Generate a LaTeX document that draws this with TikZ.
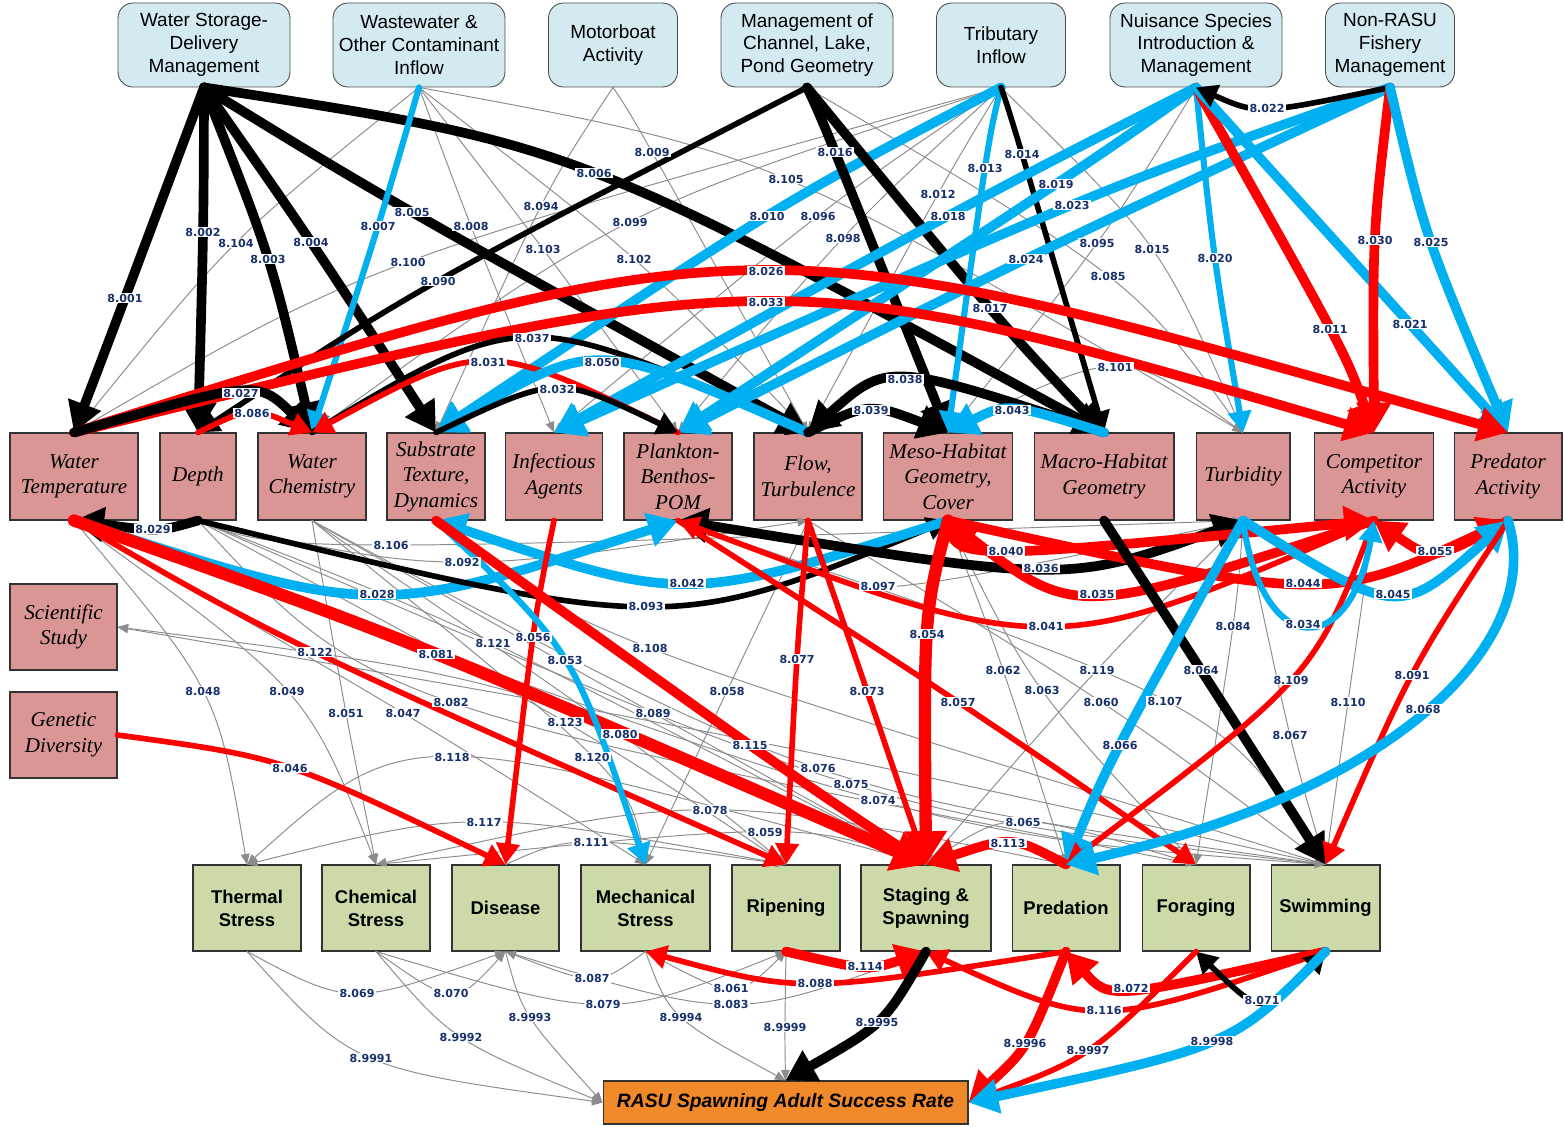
\documentclass[tikz,border=0pt]{standalone}
\usepackage{fontspec}
\setmainfont{Liberation Serif}
\setsansfont{Liberation Sans}
\newfontfamily\lblfont{DejaVu Sans}
\usepackage{xcolor}
\usetikzlibrary{arrows.meta,calc}

\definecolor{topfill}{HTML}{D3EAF0}
\definecolor{midfill}{HTML}{D99694}
\definecolor{botfill}{HTML}{CCDAAA}
\definecolor{outfill}{HTML}{F0892A}
\definecolor{lblc}{HTML}{17306B}
\definecolor{blueln}{HTML}{00B0F0}
\definecolor{redln}{HTML}{FF0000}
\definecolor{grayln}{HTML}{8C8C8C}

% source/label x/label y/target/number
\newcommand\thinlinks{%
ww.south/236/243/wt.north/8.104,%
ti.south/408/262/wt.north/8.100,%
ww.south/471/226/ia.north/8.008,%
mb.south/541/206/st.north/8.094,%
ww.south/543/249/pb.north/8.103,%
mb.south/652/152/ft.north/8.009,%
ti.south/630/222/wc.north/8.099,%
ww.south/634/259/ft.north/8.102,%
ww.south/786/179/tb.north/8.105,%
ti.south/818/216/ia.north/8.096,%
ti.south/843/238/pb.north/8.098,%
ti.south/938/194/ft.north/8.012,%
ns.south/1097/243/mh.north/8.095,%
ti.south/1152/249/tb.north/8.015,%
mg.south/1108/276/tb.north/8.085,%
mh.north/1115/367/tb.north/8.101,%
dp.south/391/545/tb.south/8.106,%
dp.south/462/562/ft.south/8.092,%
tb.south/878/586/ft.south/8.097,%
wt.south/203/691/ths.north/8.048,%
wt.south/287/691/chs.north/8.049,%
wc.south/346/713/chs.north/8.051,%
wt.south/403/713/mes.north/8.047,%
dp.south/451/702/frg.north/8.082,%
dp.south/493/643/sts.north/8.121,%
dp.south/565/722/rip.north/8.123,%
st.south/650/648/swm.north/8.108,%
ft.south/727/691/mes.north/8.058,%
wc.south/653/713/sts.north/8.089,%
wc.south/620/734/rip.north/8.080,%
wc.south/592/757/mes.north/8.120,%
sts.north/452/757/ths.north/8.118,%
rip.north/484/822/ths.north/8.117,%
dis.north/591/842/rip.north/8.111,%
pre.north/710/810/chs.north/8.078,%
chs.north/765/832/sts.north/8.059,%
frg.north/1023/822/sts.north/8.065,%
wt.south/878/800/swm.north/8.074,%
dp.south/851/784/swm.north/8.075,%
wc.south/818/768/swm.north/8.076,%
ft.south/1101/702/swm.north/8.060,%
pb.south/1165/701/swm.north/8.107,%
tb.south/1097/670/sts.north/8.119,%
mh.south/1003/670/pre.north/8.062,%
mh.south/1042/690/frg.north/8.063,%
tb.south/1233/626/frg.north/8.084,%
tb.south/1290/735/swm.north/8.067,%
ca.south/1348/702/swm.north/8.110,%
ths.south/357/993/dis.south/8.069,%
chs.south/451/993/dis.south/8.070,%
mes.south/592/978/dis.south/8.087,%
chs.south/603/1004/rip.south/8.079,%
mes.south/731/988/rip.south/8.061,%
dis.south/731/1004/sts.south/8.083,%
ths.south/371/1058/rasu.west/8.9991,%
chs.south/461/1037/rasu.west/8.9992,%
dis.south/530/1017/rasu.west/8.9993,%
mes.south/681/1017/rasu.north/8.9994,%
rip.south/785/1027/rasu.north/8.9999}

% source/label x/label y/target/number/style
\newcommand\heavylinks{%
ws.south/125/298/wt.north/8.001/kA,%
ws.south/203/232/dp.north/8.002/kA,%
ws.south/268/259/wc.north/8.003/kA,%
ws.south/311/242/st.north/8.004/kA,%
ws.south/412/212/ft.north/8.005/kA,%
ws.south/594/173/ma.north/8.006/kA,%
ww.south/378/226/wc.north/8.007/bB,%
mg.south/438/281/dp.north/8.090/kB,%
ti.south/767/216/st.north/8.010/bA,%
mg.south/835/152/mh.north/8.016/kA,%
mg.south/990/308/ma.north/8.017/kA,%
ti.south/985/168/mh.north/8.013/bB,%
ti.south/1022/154/ma.north/8.014/kB,%
ns.south/948/216/ia.north/8.018/bA,%
ns.south/1056/184/pb.north/8.019/bA,%
nr.south/1072/205/ia.north/8.023/bA,%
nr.south/1026/259/pb.north/8.024/bA,%
ns.south/1215/258/tb.north/8.020/bB,%
ns.south/1330/329/ca.north/8.011/rA,%
ns.south/1410/324/pa.north/8.021/bA,%
nr.south/1267/108/ns.south/8.022/kB,%
nr.south/1375/240/ca.north/8.030/rA,%
nr.south/1431/242/pa.north/8.025/bA,%
wt.north/766/271/pa.north/8.026/rA,%
wt.north/766/302/ca.north/8.033/rA,%
wc.north/532/338/ft.north/8.037/kB,%
pb.north/488/362/wc.north/8.031/rB,%
ft.north/602/362/st.north/8.050/bA,%
st.north/557/389/pb.north/8.032/kB,%
wt.north/241/393/wc.north/8.027/kA,%
dp.north/252/413/wc.north/8.086/rB,%
ma.north/905/379/ft.north/8.038/kA,%
ft.north/871/410/mh.north/8.039/kA,%
ma.north/1012/410/mh.north/8.043/bA,%
dp.south/153/529/wt.south/8.029/kA,%
wt.south/377/594/pb.south/8.028/bA,%
dp.south/646/606/mh.south/8.093/kB,%
mh.south/687/583/st.south/8.042/bA,%
tb.south/1041/568/pb.south/8.036/kAd,%
mh.south/1006/551/ca.south/8.040/rA,%
ca.south/1097/594/mh.south/8.035/rA,%
ca.south/1046/626/pb.south/8.041/rB,%
mh.south/1303/583/pa.south/8.044/rA,%
pa.south/1435/551/ca.south/8.055/rA,%
tb.south/1393/594/pa.south/8.045/bA,%
gd.east/290/768/dis.north/8.046/rB,%
wt.south/315/652/rip.north/8.122/rB,%
wt.south/436/654/sts.north/8.081/rX,%
ia.south/533/637/dis.north/8.056/rB,%
st.south/565/660/mes.north/8.053/bB,%
st.south/750/745/sts.north/8.115/rA,%
ft.south/797/659/rip.north/8.077/rB,%
ft.south/867/691/sts.north/8.073/rB,%
pb.south/958/702/frg.north/8.057/rB,%
mh.south/927/634/sts.north/8.054/rX,%
ma.south/1201/670/swm.north/8.064/kA,%
tb.south/1120/745/pre.north/8.066/bA,%
ca.south/1291/680/pre.north/8.109/rB,%
pa.south/1412/675/swm.north/8.091/rB,%
pre.north/1008/843/sts.north/8.113/rA,%
rip.south/865/966/sts.south/8.114/rA,%
pre.south/815/983/mes.south/8.088/rB,%
swm.south/1104/1010/sts.south/8.116/rB,%
swm.south/1131/988/pre.south/8.072/rA,%
frg.south/1262/1000/swm.south/8.071/kBd,%
sts.south/877/1022/rasu.north/8.9995/kA,%
pre.south/1025/1043/rasu.east/8.9996/rA,%
frg.south/1088/1050/rasu.east/8.9997/rB,%
swm.south/1212/1041/rasu.east/8.9998/bA}

\begin{document}
\begin{tikzpicture}[
  x=0.02cm, y=-0.02cm,
  topbox/.style={rectangle, rounded corners=0.3cm, draw=black!70, line width=0.5pt,
                 fill=topfill, minimum height=1.68cm, align=center, inner sep=1pt,
                 font=\sffamily\fontsize{10.8}{13}\selectfont},
  midbox/.style={rectangle, draw=black!80, line width=0.6pt, fill=midfill,
                 minimum height=1.74cm, align=center, inner sep=1pt,
                 font=\itshape\fontsize{12}{14.5}\selectfont},
  botbox/.style={rectangle, draw=black!80, line width=0.6pt, fill=botfill,
                 minimum height=1.72cm, align=center, inner sep=1pt,
                 font=\sffamily\bfseries\fontsize{10.5}{13}\selectfont},
  outbox/.style={rectangle, draw=black!80, line width=0.6pt, fill=outfill,
                 minimum width=7.3cm, minimum height=0.86cm,
                 font=\sffamily\bfseries\itshape\fontsize{11}{13}\selectfont},
  link/.style={line cap=round, line join=round},
  gr/.style={link, draw=grayln, line width=0.55pt, -{Triangle[length=6pt,width=5pt]}},
  kA/.style={link, draw=black, line width=5.5pt, -{Triangle[length=17pt,width=19pt]}},
  kB/.style={link, draw=black, line width=3.2pt, -{Triangle[length=12pt,width=13pt]}},
  kAd/.style={link, draw=black, line width=5.5pt,
              {Triangle[length=17pt,width=19pt]}-{Triangle[length=17pt,width=19pt]}},
  kBd/.style={link, draw=black, line width=3.2pt,
              {Triangle[length=12pt,width=13pt]}-{Triangle[length=12pt,width=13pt]}},
  rA/.style={link, draw=redln, line width=5.5pt, -{Triangle[length=17pt,width=19pt]}},
  rB/.style={link, draw=redln, line width=3.2pt, -{Triangle[length=12pt,width=13pt]}},
  rX/.style={link, draw=redln, line width=7pt, -{Triangle[length=19pt,width=23pt]}},
  bA/.style={link, draw=blueln, line width=5.5pt, -{Triangle[length=17pt,width=19pt]}},
  bB/.style={link, draw=blueln, line width=3.5pt, -{Triangle[length=12pt,width=13pt]}},
  lbl/.style={fill=white, inner sep=0.6pt, text=lblc,
              font=\lblfont\bfseries\fontsize{6.3}{7}\selectfont}
]
\useasboundingbox (0,0) rectangle (1564,1126);

% management drivers
\node[topbox, minimum width=3.44cm] (ws) at (204,45) {Water Storage-\\Delivery\\Management};
\node[topbox, minimum width=3.44cm] (ww) at (419,45) {Wastewater \&\\Other Contaminant\\Inflow};
\node[topbox, minimum width=2.58cm] (mb) at (613,45) {Motorboat\\Activity};
\node[topbox, minimum width=3.44cm] (mg) at (807,45) {Management of\\Channel, Lake,\\Pond Geometry};
\node[topbox, minimum width=2.58cm] (ti) at (1001,45) {Tributary\\Inflow};
\node[topbox, minimum width=3.44cm] (ns) at (1196,45) {Nuisance Species\\Introduction \&\\Management};
\node[topbox, minimum width=2.58cm] (nr) at (1390,45) {Non-RASU\\Fishery\\Management};

% habitat elements
\node[midbox, minimum width=2.56cm] (wt) at (74,476.5) {Water\\Temperature};
\node[midbox, minimum width=1.52cm] (dp) at (198,476.5) {Depth};
\node[midbox, minimum width=2.16cm] (wc) at (312,476.5) {Water\\Chemistry};
\node[midbox, minimum width=1.96cm] (st) at (436,476.5) {Substrate\\Texture,\\Dynamics};
\node[midbox, minimum width=1.94cm] (ia) at (554,476.5) {Infectious\\Agents};
\node[midbox, minimum width=2.16cm] (pb) at (678,476.5) {Plankton-\\Benthos-\\POM};
\node[midbox, minimum width=2.16cm] (ft) at (808,476.5) {Flow,\\Turbulence};
\node[midbox, minimum width=2.58cm] (mh) at (948,476.5) {Meso-Habitat\\Geometry,\\Cover};
\node[midbox, minimum width=2.8cm] (ma) at (1104,476.5) {Macro-Habitat\\Geometry};
\node[midbox, minimum width=1.88cm] (tb) at (1243,476.5) {Turbidity};
\node[midbox, minimum width=2.38cm] (ca) at (1374,476.5) {Competitor\\Activity};
\node[midbox, minimum width=2.16cm] (pa) at (1508,476.5) {Predator\\Activity};
\node[midbox, minimum width=2.14cm, minimum height=1.72cm] (ss) at (63.5,627) {Scientific\\Study};
\node[midbox, minimum width=2.14cm, minimum height=1.72cm] (gd) at (63.5,735) {Genetic\\Diversity};

% critical biological activities
\node[botbox, minimum width=2.16cm] (ths) at (247,908) {Thermal\\Stress};
\node[botbox, minimum width=2.16cm] (chs) at (376,908) {Chemical\\Stress};
\node[botbox, minimum width=2.14cm] (dis) at (505.5,908) {Disease};
\node[botbox, minimum width=2.58cm] (mes) at (645.5,908) {Mechanical\\Stress};
\node[botbox, minimum width=2.16cm] (rip) at (786,908) {Ripening};
\node[botbox, minimum width=2.6cm] (sts) at (926,908) {Staging \&\\Spawning};
\node[botbox, minimum width=2.16cm] (pre) at (1066,908) {Predation};
\node[botbox, minimum width=2.16cm] (frg) at (1196,908) {Foraging};
\node[botbox, minimum width=2.18cm] (swm) at (1325.5,908) {Swimming};

\node[outbox] (rasu) at (785.5,1102.5) {RASU Spawning Adult Success Rate};

% weak links
\foreach \src/\lx/\ly/\dst/\nm in \thinlinks {
  \draw[gr] (\src) .. controls ($1.33333*(\lx,\ly)-0.166667*(\src)-0.166667*(\dst)$) .. (\dst);
}
\draw[gr] (swm.north) .. controls (721,731) .. (ss.east);
\draw[gr] (sts.north) .. controls (521,678) .. (ss.east);

% strong links
\foreach \src/\lx/\ly/\dst/\nm/\sty in \heavylinks {
  \draw[\sty] (\src) .. controls ($1.33333*(\lx,\ly)-0.166667*(\src)-0.166667*(\dst)$) .. (\dst);
}
\draw[bB] (tb.south) .. controls (1262,660) and (1350,660) .. (ca.south);
\draw[bA] (pa.south) .. controls (1545,640) and (1400,790) .. (pre.north);

% link numbers on top
\foreach \src/\lx/\ly/\dst/\nm [count=\k] in \thinlinks {
  \node[lbl] (g\k) at (\lx,\ly) {\nm};
}
\foreach \src/\lx/\ly/\dst/\nm/\sty [count=\k] in \heavylinks {
  \node[lbl] (h\k) at (\lx,\ly) {\nm};
}
\node[lbl] (l034) at (1303,624) {8.034};
\node[lbl] (l068) at (1423,709) {8.068};

\end{tikzpicture}
\end{document}
